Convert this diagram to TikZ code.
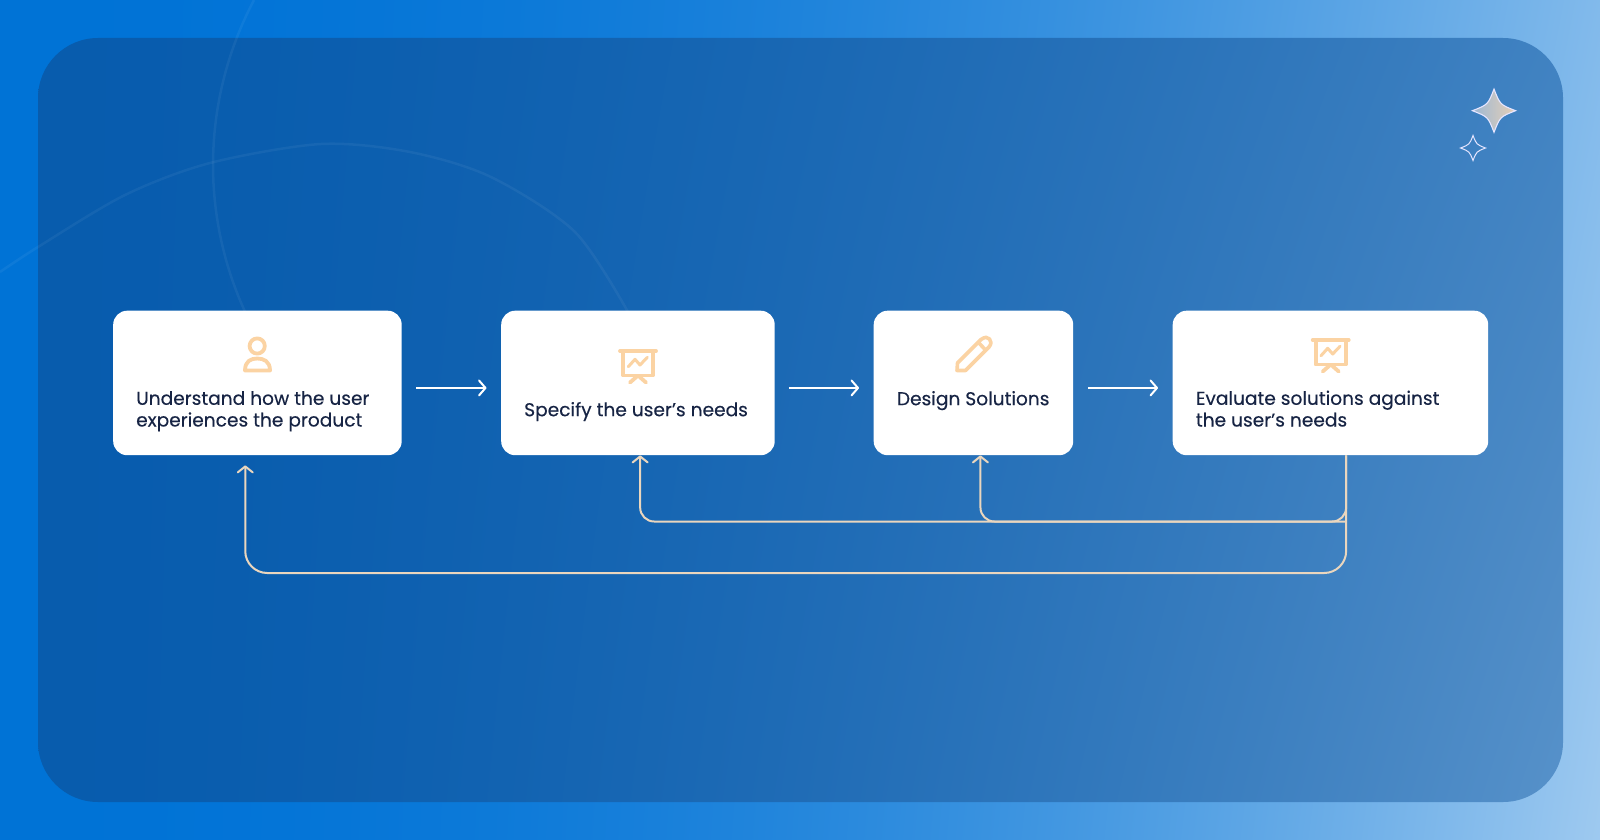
\documentclass[tikz,border=0pt]{standalone}
\usepackage{fontspec}
\setmainfont{Poppins}[FakeBold=0.25]
\usetikzlibrary{arrows.meta,calc}
% x y -> s -> r g b  (the picture's box is the 25bp..75bp part of the shading)
\pgfdeclarefunctionalshading{pagebg}{\pgfpoint{0bp}{0bp}}{\pgfpoint{100bp}{100bp}}{}{
  25 sub 50 div abs 0.18 mul 1 exch sub exch 25 sub 50 div abs 2.1 exp mul
  dup 0.62 mul 0.0 add exch
  dup 0.34 mul 0.45 add exch
  0.10 mul 0.84 add
}
\pgfdeclarefunctionalshading{panelbg}{\pgfpoint{0bp}{0bp}}{\pgfpoint{100bp}{100bp}}{}{
  25 sub 50 div abs 0.28 mul 1 exch sub exch 25 sub 50 div abs 1.7 exp mul
  dup 0.31 mul 0.03 add exch
  dup 0.21 mul 0.36 add exch
  0.11 mul 0.68 add
}
\definecolor{inktext}{HTML}{172444}
\definecolor{iconpeach}{HTML}{FBD3A3}
\definecolor{linkpeach}{HTML}{EAD6BE}
\definecolor{starleft}{HTML}{9DB8D4}
\definecolor{starright}{HTML}{E6CFB6}
\tikzset{
  x=1pt,y=-1pt,
  card/.style={draw=none,fill=white,rounded corners=14pt,minimum height=144.5pt,inner sep=0pt,anchor=north west},
  label/.style={anchor=base west,align=left,inner sep=0pt,text=inktext,font=\fontsize{18.6}{21.7}\selectfont},
  flow/.style={draw=white,line width=2pt,-{Straight Barb[length=6.5pt,width=15pt,line width=2pt,round]}},
  back/.style={draw=linkpeach,line width=2pt,-{Straight Barb[length=6pt,width=15pt,line width=2pt,round]}},
  icon/.style={draw=iconpeach,line width=3.8pt,line cap=round,line join=round},
  faint/.style={draw=white,draw opacity=0.05,line width=2.5pt},
  board/.pic={
    \draw[icon] (-18,-11.5) -- (18,-11.5);
    \draw[icon] (-15,-11.5) -- (-15,13) -- (15,13) -- (15,-11.5);
    \draw[icon] (0,13) -- (-8,20) (0,13) -- (8,20);
    \draw[icon,line width=3pt] (-9.7,4.2) -- (-3,-3.2) -- (2,2.5) -- (9.3,-5.2);
  }
}
\newcommand{\fourstar}[1]{(0,-#1) .. controls (0.28*#1,-0.28*#1) .. (#1,0) .. controls (0.28*#1,0.28*#1) .. (0,#1) .. controls (-0.28*#1,0.28*#1) .. (-#1,0) .. controls (-0.28*#1,-0.28*#1) .. cycle}
\begin{document}
\begin{tikzpicture}
\useasboundingbox (0,0) rectangle (1600,840);
\path[shading=pagebg] (0,0) rectangle (1600,840);
\path[shading=panelbg,rounded corners=60pt] (38,38) rectangle (1563,802);
% faint arcs
\draw[faint] plot[domain=155.4:207.9,samples=40] ({565.5+352.5*cos(\x)},{165+352.5*sin(\x)});
\draw[faint] plot[smooth] coordinates {(0,272) (38,247) (125,195) (210,163) (321,144) (410,152) (491,177) (575,232) (628,312)};
% stars
\begin{scope}[shift={(1494,110.7)}]
\path[draw=white!90!blue,line width=1.1pt,left color=starleft,right color=starright,line join=miter] \fourstar{21.6};
\end{scope}
\begin{scope}[shift={(1473,148)}]
\draw[white!90!blue,line width=1pt] \fourstar{12.5};
\end{scope}
% cards
\node[card,minimum width=288.5pt] (b1) at (113,310.5) {};
\node[card,minimum width=273.5pt] (b2) at (501,310.5) {};
\node[card,minimum width=199.5pt] (b3) at (873.5,310.5) {};
\node[card,minimum width=315.5pt] (b4) at (1172.5,310.5) {};
% labels
\node[label] (t1) at (136,426.5) {Understand how the user\\experiences the product};
\node[label] (t2) at (524,416.2) {Specify the user’s needs};
\node[label] (t3) at (896.7,405.2) {Design Solutions};
\node[label] (t4) at (1195.7,426.5) {Evaluate solutions against\\the user’s needs};
% icons
\draw[icon] (257.2,346) circle[radius=7.6];
\draw[icon] (245,370.5) .. controls (245,361) and (251,358.5) .. (257.2,358.5) .. controls (263.5,358.5) and (270,361) .. (270,370.5) -- cycle;
\pic at (638,362.5) {board};
\pic at (1330.7,351.5) {board};
\draw[icon,line width=3.6pt] (957,370.5) -- (957.5,363) -- (981,339.5) .. controls (985,336.5) and (988,337) .. (989.5,339) .. controls (991.5,341) and (991.5,344) .. (989,347) -- (965.5,370.5) -- cycle;
\draw[icon,line width=3.6pt] (978.5,342.5) -- (985.5,350);
% forward arrows
\draw[flow] ([xshift=14.5pt,yshift=-5pt]b1.east) -- ([xshift=-14.5pt,yshift=-5pt]b2.west);
\draw[flow] ([xshift=14pt,yshift=-5pt]b2.east) -- ([xshift=-14.5pt,yshift=-5pt]b3.west);
\draw[flow] ([xshift=15pt,yshift=-5pt]b3.east) -- ([xshift=-14.5pt,yshift=-5pt]b4.west);
% feedback arrows
\coordinate (fb) at ([xshift=15.7pt]b4.south);
\coordinate (lane1) at (0,521.5);
\coordinate (lane2) at (0,573);
\coordinate (in1) at ([xshift=-12.2pt,yshift=-10pt]b1.south);
\coordinate (in2) at ([xshift=2.2pt]b2.south);
\coordinate (in3) at ([xshift=7pt]b3.south);
\draw[back,rounded corners=22pt] (fb) -- (fb|-lane2) -- (in1|-lane2) -- (in1);
\draw[back,rounded corners=14pt] (fb) -- (fb|-lane1) -- (in2|-lane1) -- (in2);
\draw[back,rounded corners=14pt] (fb|-lane1) -- (in3|-lane1) -- (in3);
\end{tikzpicture}
\end{document}
